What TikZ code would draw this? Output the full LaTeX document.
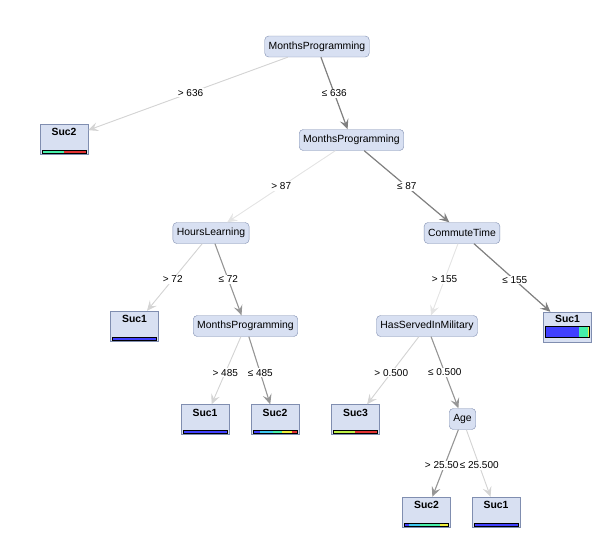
\documentclass[tikz,border=0pt]{standalone}
\usepackage{fontspec}
\setmainfont{Liberation Sans}
\usetikzlibrary{arrows.meta}
\definecolor{nodefill}{RGB}{216,224,242}
\definecolor{nodeborder}{RGB}{128,142,176}
\definecolor{edgedark}{RGB}{128,128,128}
\definecolor{edgemid}{RGB}{150,150,150}
\definecolor{edgelight}{RGB}{212,212,212}
\definecolor{edgefaint}{RGB}{228,228,228}
\definecolor{cblue}{RGB}{64,64,255}
\definecolor{cturq}{RGB}{70,240,170}
\definecolor{ccyan}{RGB}{60,200,240}
\definecolor{cred}{RGB}{225,50,50}
\definecolor{cyellow}{RGB}{240,240,60}
\definecolor{cyg}{RGB}{190,240,70}
\newcommand\leafbar[4]{%
  \foreach \a/\b/\c in {#4} {\fill[\c] ({#1-22+44*\a},#2) rectangle ({#1-22+44*\b},{#2+#3});}
  \draw[black,line width=0.8pt] ({#1-22},#2) rectangle ({#1+22},{#2+#3});
}
\tikzset{
  inner/.style={draw=nodeborder, fill=nodefill, rounded corners=4pt, minimum height=21pt,
    inner xsep=4pt, inner ysep=0pt, font=\fontsize{10.4}{12}\selectfont},
  leaf/.style={draw=nodeborder, fill=nodefill, minimum width=48pt, minimum height=30pt, inner sep=0pt},
  leaftext/.style={font=\bfseries\fontsize{10.4}{12}\selectfont, inner sep=0pt},
  arr/.style={-{Stealth[length=10pt,width=9pt,inset=4pt]}},
  heavy/.style={arr, draw=edgedark, fill=edgedark, line width=1.2pt},
  medium/.style={arr, draw=edgemid, fill=edgemid, line width=1.1pt},
  light/.style={arr, draw=edgelight, fill=edgelight, line width=0.9pt},
  faint/.style={arr, draw=edgefaint, fill=edgefaint, line width=0.9pt},
  elab/.style={fill=white, inner sep=1pt, font=\fontsize{10}{12}\selectfont}
}
\begin{document}
\begin{tikzpicture}[x=1pt,y=-1pt]
\useasboundingbox (0,0) rectangle (605,547);
% nodes
\node[inner] (root) at (317,46.5) {MonthsProgramming};
\node[leaf] (l1) at (64,139) {};
\node[inner] (mp2) at (351.5,140) {MonthsProgramming};
\node[inner] (hl) at (211,233) {HoursLearning};
\node[inner] (ct) at (462,233) {CommuteTime};
\node[leaf] (l2) at (134.5,326) {};
\node[inner] (mp3) at (245.5,326) {MonthsProgramming};
\node[inner] (hs) at (427,326) {HasServedInMilitary};
\node[leaf] (l3) at (567.5,327) {};
\node[leaf] (l4) at (205,419.5) {};
\node[leaf] (l5) at (275,419.5) {};
\node[leaf] (l6) at (355.5,419.5) {};
\node[inner] (age) at (462.5,419) {Age};
\node[leaf] (l7) at (426.5,512) {};
\node[leaf] (l8) at (496,512) {};
% leaf texts
\node[leaftext] (t1) at (64,132) {Suc2};
\node[leaftext] (t2) at (134.5,319) {Suc1};
\node[leaftext] (t3) at (567.5,319) {Suc1};
\node[leaftext] (t4) at (205,412.5) {Suc1};
\node[leaftext] (t5) at (275,412.5) {Suc2};
\node[leaftext] (t6) at (355.5,412.5) {Suc3};
\node[leaftext] (t7) at (426.5,505) {Suc2};
\node[leaftext] (t8) at (496,505) {Suc1};
% bars
\leafbar{64}{150}{3}{0/0.5/cturq, 0.5/1/cred}
\leafbar{134.5}{337}{3}{0/1/cblue}
\leafbar{567.5}{326}{11}{0/0.76/cblue, 0.76/0.96/cturq, 0.96/1/cyellow}
\leafbar{205}{430.5}{3}{0/1/cblue}
\leafbar{275}{430.5}{3}{0/0.17/cblue, 0.17/0.45/ccyan, 0.45/0.65/cturq, 0.65/0.88/cyellow, 0.88/1/cred}
\leafbar{355.5}{430.5}{3}{0/0.48/cyg, 0.48/1/cred}
\leafbar{426.5}{523}{3}{0/0.1/cblue, 0.1/0.35/ccyan, 0.35/0.8/cturq, 0.8/1/cyellow}
\leafbar{496}{523}{3}{0/1/cblue}
% edges
\draw[light] (root) -- (l1);
\draw[heavy] (root) -- (mp2);
\draw[faint] (mp2) -- (hl);
\draw[heavy] (mp2) -- (ct);
\draw[light] (hl) -- (l2);
\draw[medium] (hl) -- (mp3);
\draw[faint] (ct) -- (hs);
\draw[heavy] (ct) -- (l3);
\draw[light] (mp3) -- (l4);
\draw[medium] (mp3) -- (l5);
\draw[light] (hs) -- (l6);
\draw[medium] (hs) -- (age);
\draw[medium] (age) -- (l7);
\draw[light] (age) -- (l8);
% edge labels
\path (root.center) -- node[elab] (e1) {> 636} (l1.center);
\path (root.center) -- node[elab] (e2) {≤ 636} (mp2.center);
\path (mp2.center) -- node[elab] (e3) {> 87} (hl.center);
\path (mp2.center) -- node[elab] (e4) {≤ 87} (ct.center);
\path (hl.center) -- node[elab] (e5) {> 72} (l2.center);
\path (hl.center) -- node[elab] (e6) {≤ 72} (mp3.center);
\path (ct.center) -- node[elab] (e7) {> 155} (hs.center);
\path (ct.center) -- node[elab] (e8) {≤ 155} (l3.center);
\path (mp3.center) -- node[elab] (e9) {> 485} (l4.center);
\path (mp3.center) -- node[elab] (e10) {≤ 485} (l5.center);
\path (hs.center) -- node[elab] (e11) {> 0.500} (l6.center);
\path (hs.center) -- node[elab] (e12) {≤ 0.500} (age.center);
\path (age.center) -- node[elab] (e13) {> 25.500} (l7.center);
\path (age.center) -- node[elab] (e14) {≤ 25.500} (l8.center);
\end{tikzpicture}
\end{document}
